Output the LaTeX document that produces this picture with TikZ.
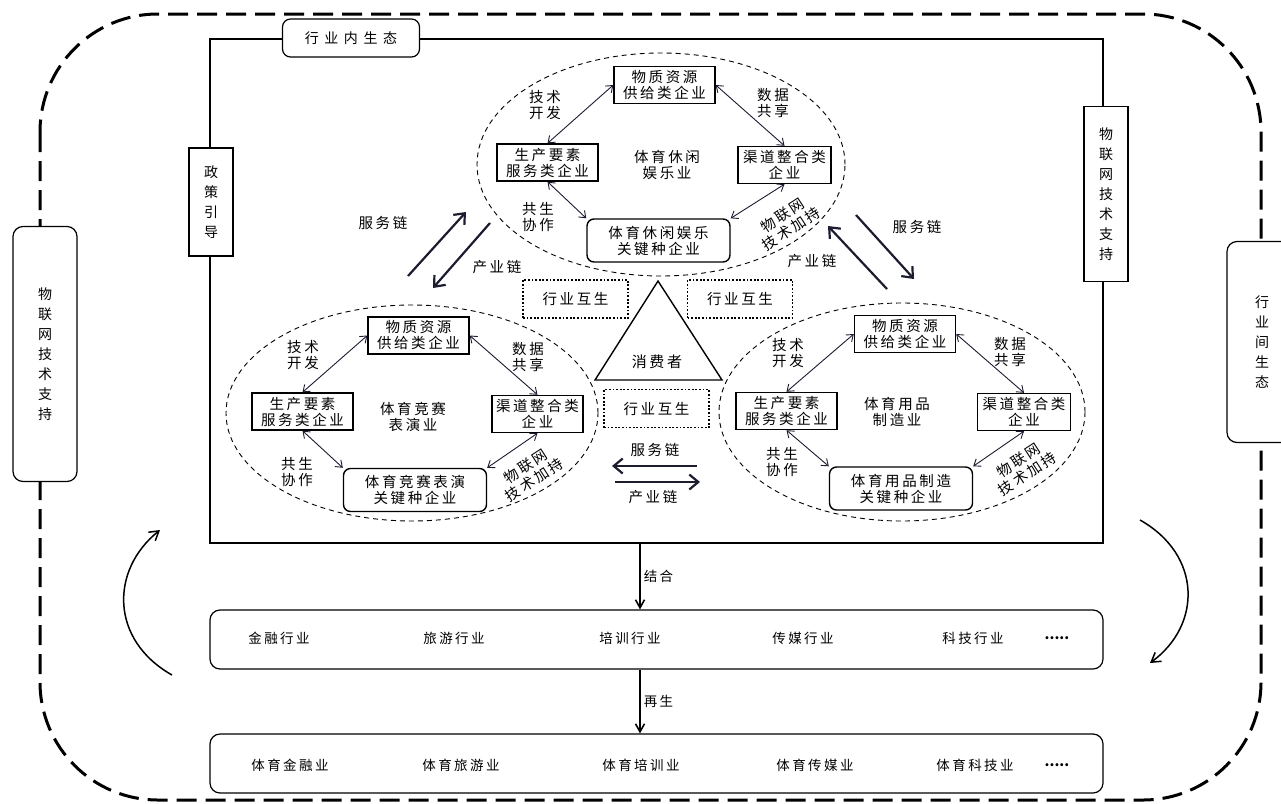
\documentclass[tikz,border=0pt]{standalone}
\usepackage{fontspec}
\setmainfont{Noto Sans CJK SC}[LetterSpace=18]
\newfontfamily\dotfont{Noto Sans CJK SC}
\usetikzlibrary{arrows.meta, positioning, calc, shapes.geometric}
\definecolor{ink}{RGB}{28,28,48}

\begin{document}
\begin{tikzpicture}[x=1pt, y=-1pt,
    every node/.style={font=\fontsize{14.5}{16}\selectfont, align=center, inner sep=1pt},
    firm/.style={draw, line width=1.4pt, fill=white, minimum width=101pt,
                 minimum height=37pt, inner sep=2pt},
    keyfirm/.style={firm, rounded corners=7pt, minimum width=143pt, minimum height=43pt},
    eco/.style={ellipse, draw, line width=0.9pt, dash pattern=on 5pt off 4pt},
    dotbox/.style={draw, line width=1.8pt, dash pattern=on 1.8pt off 1.8pt,
                   minimum width=105pt, minimum height=38pt},
    sidebox/.style={draw, fill=white, line width=1.2pt, font=\fontsize{14}{20}\selectfont,
                    inner sep=0pt},
    linkarr/.style={<->, >={Straight Barb[length=6pt,width=9pt]}, line width=0.9pt, ink},
    chainarr/.style={-{Straight Barb[length=9pt,width=15pt]}, line width=2.2pt, ink},
    flowarr/.style={-{Straight Barb[length=8pt,width=9pt]}, line width=1.6pt},
    cyclearr/.style={-{Straight Barb[length=9pt,width=11pt]}, line width=1.5pt},
    rowbox/.style={draw, rounded corners=10pt, line width=1.2pt, minimum width=893pt,
                   minimum height=59pt},
    rowtext/.style={font=\fontsize{13.5}{15}\selectfont}
]
\useasboundingbox (0,0) rectangle (1281,803);
\draw[line width=3pt, dash pattern=on 20pt off 9pt, rounded corners=118pt] (40,14) rectangle (1261,800);

\node[draw, line width=1.8pt, minimum width=893pt, minimum height=504pt, inner sep=0pt] (intra) at (656.5,291) {};
\node[draw, fill=white, rounded corners=8pt, line width=1.2pt, minimum width=137pt, minimum height=38pt,
      font=\fontsize{14}{16}\selectfont\addfontfeatures{LetterSpace=40}] (intralabel) at (351,38) {行业内生态};
\node[sidebox, minimum width=44pt, minimum height=108pt] (policy) at (211,202) {政\\策\\引\\导};
\node[sidebox, minimum width=44pt, minimum height=175pt] (iotin) at (1106,194) {物\\联\\网\\技\\术\\支\\持};
\node[sidebox, rounded corners=10pt, minimum width=64pt, minimum height=255pt] (iotout) at (45,354) {物\\联\\网\\技\\术\\支\\持};
\node[sidebox, rounded corners=10pt, minimum width=70pt, minimum height=201pt] (inter) at (1262,342) {行\\业\\间\\生\\态};

\node[eco, minimum width=368pt, minimum height=223pt] (leisure) at (661,164.5) {};
\node[eco, minimum width=372pt, minimum height=216pt] (contest) at (412,413) {};
\node[eco, minimum width=366pt, minimum height=218pt] (goods) at (902,412) {};

\node[firm] (lres) at (664.5,85) {物质资源\\供给类企业};
\node[firm] (lfac) at (547.5,162.5) {生产要素\\服务类企业};
\node[firm, minimum width=93pt] (lchan) at (784.5,165) {渠道整合类\\企业};
\node[keyfirm] (lkey) at (658.5,240.5) {体育休闲娱乐\\关键种企业};
\node (lname) at (667,165) {体育休闲\\娱乐业};
\node (ltech) at (545,105) {技术\\开发};
\node (ldata) at (773,103) {数据\\共享};
\node (lsym) at (538,217) {共生\\协作};
\node[rotate=33] (liot) at (787,222) {物联网\\技术加持};
\draw[linkarr] (lres.west) -- (lfac.north);
\draw[linkarr] (lres.east) -- (lchan.north);
\draw[linkarr] (lfac.south) -- (lkey.north west);
\draw[linkarr] (lchan.south) -- (lkey.north east);

\node[firm] (cres) at (418.5,335.5) {物质资源\\供给类企业};
\node[firm] (cfac) at (302.5,411.5) {生产要素\\服务类企业};
\node[firm, minimum width=91pt] (cchan) at (537.5,414) {渠道整合类\\企业};
\node[keyfirm] (ckey) at (415,490) {体育竞赛表演\\关键种企业};
\node (cname) at (413,417) {体育竞赛\\表演业};
\node (ctech) at (303,355) {技术\\开发};
\node (cdata) at (528,357) {数据\\共享};
\node (csym) at (297,472) {共生\\协作};
\node[rotate=33] (ciot) at (530,473) {物联网\\技术加持};
\draw[linkarr] (cres.west) -- (cfac.north);
\draw[linkarr] (cres.east) -- (cchan.north);
\draw[linkarr] (cfac.south) -- (ckey.north west);
\draw[linkarr] (cchan.south) -- (ckey.north east);

\node[firm] (gres) at (905,334) {物质资源\\供给类企业};
\node[firm] (gfac) at (786.5,411) {生产要素\\服务类企业};
\node[firm, minimum width=93pt] (gchan) at (1024,412) {渠道整合类\\企业};
\node[keyfirm] (gkey) at (901,488.5) {体育用品制造\\关键种企业};
\node (gname) at (897,412) {体育用品\\制造业};
\node (gtech) at (788,353) {技术\\开发};
\node (gdata) at (1010,352) {数据\\共享};
\node (gsym) at (782,462) {共生\\协作};
\node[rotate=33] (giot) at (1023,467) {物联网\\技术加持};
\draw[linkarr] (gres.west) -- (gfac.north);
\draw[linkarr] (gres.east) -- (gchan.north);
\draw[linkarr] (gfac.south) -- (gkey.north west);
\draw[linkarr] (gchan.south) -- (gkey.north east);

\node[dotbox] (mutl) at (575.5,299) {行业互生};
\node[dotbox] (mutr) at (740,299) {行业互生};
\node[dotbox] (mutb) at (656.5,408.5) {行业互生};
\draw[line width=1.4pt] (658,281) -- (595,380) -- (722,380) -- cycle;
\node[font=\fontsize{15}{17}\selectfont] (consumer) at (657,362) {消费者};

\coordinate (lsa) at (408,276); \coordinate (lsb) at (466,212);
\coordinate (lia) at (490,223); \coordinate (lib) at (433,288);
\coordinate (ria) at (887,289); \coordinate (rib) at (828,226);
\coordinate (rsa) at (856,215); \coordinate (rsb) at (914,279);
\coordinate (bsa) at (697,466); \coordinate (bsb) at (612,466);
\coordinate (bia) at (615,482); \coordinate (bib) at (700,482);
\draw[chainarr] (lsa) -- (lsb);
\draw[chainarr] (lia) -- (lib);
\draw[chainarr] (ria) -- (rib);
\draw[chainarr] (rsa) -- (rsb);
\draw[chainarr] (bsa) -- (bsb);
\draw[chainarr] (bia) -- (bib);
\node (svcl) at (383,223) {服务链};
\node (indl) at (497,267) {产业链};
\node (indr) at (812,261) {产业链};
\node (svcr) at (917,227) {服务链};
\node (svcb) at (655,450) {服务链};
\node (indb) at (653,497) {产业链};

\node[rowbox] (rowind) at (656.5,639.5) {};
\node[rowbox] (rowsport) at (656.5,763.5) {};
\draw[flowarr] ([xshift=-16.5pt]intra.south) -- node[right=2pt, rowtext] (combine) {结合} ([xshift=-16.5pt]rowind.north);
\draw[flowarr] ([xshift=-16.5pt]rowind.south) -- node[right=2pt, rowtext] (regen) {再生} ([xshift=-16.5pt]rowsport.north);

\node[rowtext] (fin) at (279,638) {金融行业};
\node[rowtext] (tour) at (454,638) {旅游行业};
\node[rowtext] (train) at (630,638) {培训行业};
\node[rowtext] (media) at (803,638) {传媒行业};
\node[rowtext] (tech) at (973,638) {科技行业};
\node[font=\dotfont\fontsize{14}{16}\selectfont\bfseries] (more) at (1057,638) {.....};
\node[rowtext] (sfin) at (290,765) {体育金融业};
\node[rowtext] (stour) at (461,765) {体育旅游业};
\node[rowtext] (strain) at (641,765) {体育培训业};
\node[rowtext] (smedia) at (815,765) {体育传媒业};
\node[rowtext] (stech) at (975,765) {体育科技业};
\node[font=\dotfont\fontsize{14}{16}\selectfont\bfseries] (smore) at (1057,765) {.....};

\coordinate (cla) at (172,675); \coordinate (clb) at (160,530);
\coordinate (cra) at (1140,520); \coordinate (crb) at (1150,663);
\draw[cyclearr] (cla) .. controls (110,640) and (110,570) .. (clb);
\draw[cyclearr] (cra) .. controls (1202,555) and (1202,625) .. (crb);
\end{tikzpicture}
\end{document}
